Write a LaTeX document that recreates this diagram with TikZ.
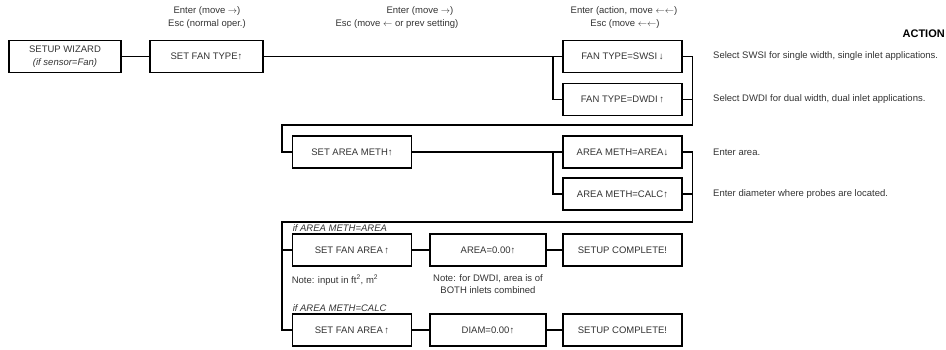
\documentclass[tikz,border=0pt]{standalone}
\usepackage{fontspec}
\setmainfont{Liberation Sans}
\usetikzlibrary{positioning}
\definecolor{txtgray}{gray}{0.2}

\tikzset{
  menubox/.style={draw=black, line width=1.9pt, minimum height=32pt, inner sep=1pt, align=center, text=txtgray},
  wire/.style={line width=1.9pt},
  hint/.style={inner sep=1pt, text=txtgray, align=center},
}

\begin{document}
\begin{tikzpicture}[x=1pt, y=-1pt, every node/.style={font=\fontsize{9.5}{11.5}\selectfont}]
  \useasboundingbox (0,0) rectangle (946,349);

  % en-tetes
  \node[hint] (enter1) at (207, 11) {Enter (move $\rightarrow$)};
  \node[hint] (esc1) at (207, 24.5) {Esc (normal oper.)};
  \node[hint] (enter2) at (420, 11) {Enter (move $\rightarrow$)};
  \node[hint] (esc2) at (397, 24.5) {Esc (move $\leftarrow$ or prev setting)};
  \node[hint] (enter3) at (624, 11) {Enter (action, move $\leftarrow\leftarrow$)};
  \node[hint] (esc3) at (625, 24.5) {Esc (move $\leftarrow\leftarrow$)};
  \node[hint, anchor=east, font=\fontsize{11}{13}\selectfont\bfseries, text=black] (action) at (946, 34) {ACTION};

  % premiere ligne
  \node[menubox, minimum width=112pt] (wizard) at (65, 56.5) {SETUP WIZARD\\[2pt]\textit{(if sensor=Fan)}};
  \node[menubox, minimum width=113pt] (fantype) at (206.5, 56.5) {SET FAN TYPE↑};
  \node[menubox, minimum width=119pt] (swsi) at (622.5, 56.5) {FAN TYPE=SWSI\,↓};
  \node[menubox, minimum width=119pt] (dwdi) at (622.5, 99.5) {FAN TYPE=DWDI\,↑};

  % methode de calcul
  \node[menubox, minimum width=119pt] (areameth) at (352, 152) {SET AREA METH↑};
  \node[menubox, minimum width=119pt] (aarea) at (622.5, 152) {AREA METH=AREA↓};
  \node[menubox, minimum width=119pt] (acalc) at (622.5, 194) {AREA METH=CALC↑};

  % surface ou diametre
  \foreach \r/\y/\v/\m in {1/250/AREA=0.00↑/AREA, 2/330/DIAM=0.00↑/CALC} {
    \node[menubox, minimum width=119pt] (fanarea\r) at (352, \y) {SET FAN AREA\,↑};
    \node[menubox, minimum width=116pt] (setval\r) at (488, \y) {\v};
    \node[menubox, minimum width=119pt] (done\r) at (622.5, \y) {SETUP COMPLETE!};
    \node[hint, anchor=south west, font=\fontsize{9.5}{11.5}\selectfont\itshape] (cond\r) at (fanarea\r.north west) {if AREA METH=\m};
    \draw[wire] (fanarea\r) -- (setval\r);
    \draw[wire] (setval\r) -- (done\r);
  }

  % notes
  \node[hint, below right=7pt and -1pt of fanarea1.south west] (note1) {Note: input in ft\textsuperscript{2}, m\textsuperscript{2}};
  \node[hint, below=6.5pt of setval1] (note2) {Note: for DWDI, area is of\\BOTH inlets combined};

  % descriptions
  \foreach \n/\y/\t in {1/56.5/{Select SWSI for single width, single inlet applications.},
                        2/99.5/{Select DWDI for dual width, dual inlet applications.},
                        3/152/{Enter area.},
                        4/194/{Enter diameter where probes are located.}} {
    \node[hint, anchor=west] (desc\n) at (712, \y) {\t};
  }

  % liaisons
  \coordinate (wrapA) at (282, 125);
  \coordinate (wrapB) at (282, 222);
  \draw[wire] (wizard) -- (fantype);
  \draw[wire] (fantype) -- (swsi);
  \draw[wire] ([xshift=-9pt]swsi.west) |- (dwdi.west);
  \draw[wire] (swsi.east) -- ++(9.5pt,0) |- (wrapA) |- (areameth.west);
  \draw[wire] (dwdi.east) -- ++(9.5pt,0);
  \draw[wire] (areameth) -- (aarea);
  \draw[wire] ([xshift=-9pt]aarea.west) |- (acalc.west);
  \draw[wire] (aarea.east) -- ++(9.5pt,0) |- (wrapB) |- (fanarea2.west);
  \draw[wire] (acalc.east) -- ++(9.5pt,0);
  \draw[wire] (wrapB |- fanarea1.west) -- (fanarea1.west);
\end{tikzpicture}
\end{document}
